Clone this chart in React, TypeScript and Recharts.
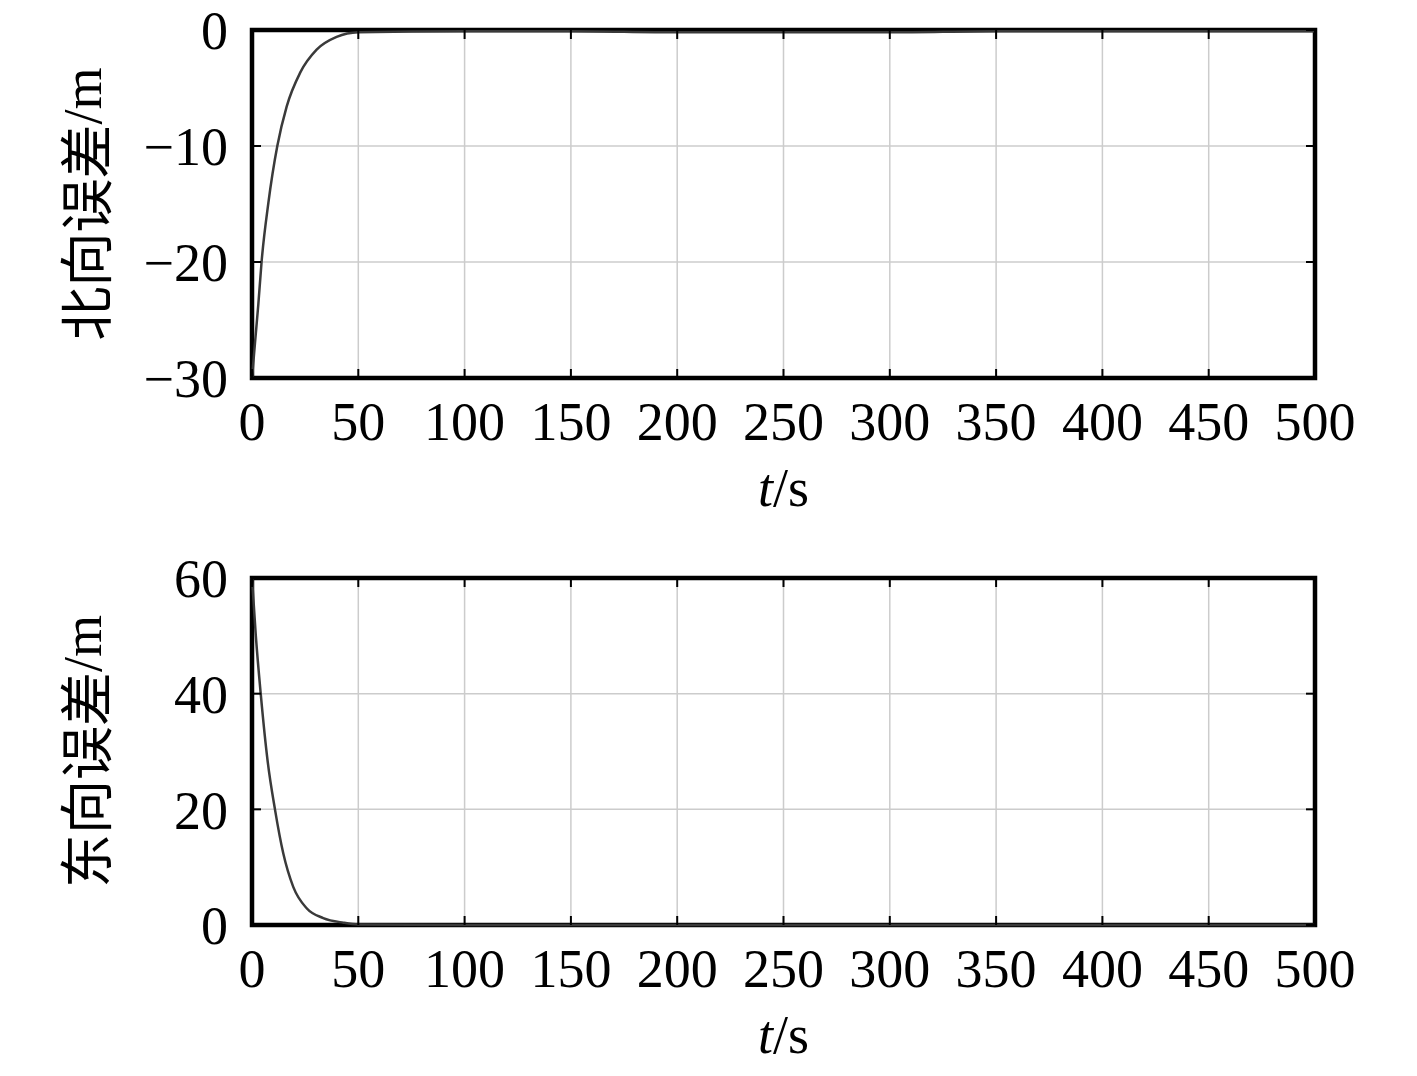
import React from "react";
import { CartesianGrid, Line, LineChart, ReferenceArea, XAxis, YAxis } from "recharts";

const timeTicks = [0, 50, 100, 150, 200, 250, 300, 350, 400, 450, 500];

const northTime = [0, 1.4, 3, 4.5, 7.7, 11.9, 16.3, 22.6, 30.4, 39.8, 50, 100, 150, 200, 250, 300, 350, 400, 450, 500];
const northError = [-30, -27, -23.6, -20, -14.9, -10, -6.6, -3.7, -1.7, -0.6, -0.2, -0.1, -0.1, -0.2, -0.2, -0.2, -0.1, -0.1, -0.1, -0.1];
const northTicks = [-30, -20, -10, 0];

const eastTime = [0, 1.8, 4.1, 7.4, 10.8, 14.7, 19.4, 25.7, 33.5, 43, 50, 100, 150, 200, 250, 300, 350, 400, 450, 500];
const eastError = [60, 50, 40, 28.2, 20, 12.4, 6.6, 2.9, 1.2, 0.4, 0.1, 0, 0, 0, 0, 0, 0, 0, 0, 0];
const eastTicks = [0, 20, 40, 60];

const SERIF = "'Liberation Serif', 'Times New Roman', serif";
const CJK = "'Noto Sans CJK SC', sans-serif";
const FONT_SIZE = 54;
const WIDTH = 1417;
const RIGHT = 102;
const TICK_LEN = 9;

const fmt = (v: number) => (v < 0 ? `\u2212${Math.abs(v)}` : `${v}`);

// tick label plus the short inward marks on bottom and top edge
function XTick(props: any) {
  const { x, y, payload, plotTop } = props;
  const bottom = y - 24;
  return (
    <g>
      <line x1={x} x2={x} y1={bottom} y2={bottom - TICK_LEN} stroke="#000" strokeWidth={2} />
      <line x1={x} x2={x} y1={plotTop} y2={plotTop + TICK_LEN} stroke="#000" strokeWidth={2} />
      <text x={x} y={y} dy="0.71em" textAnchor="middle" fontFamily={SERIF} fontSize={FONT_SIZE} fill="#000">
        {fmt(payload.value)}
      </text>
    </g>
  );
}

function YTick(props: any) {
  const { x, y, payload } = props;
  const left = x + 24;
  const right = WIDTH - RIGHT;
  return (
    <g>
      <line x1={left} x2={left + TICK_LEN} y1={y} y2={y} stroke="#000" strokeWidth={2} />
      <line x1={right} x2={right - TICK_LEN} y1={y} y2={y} stroke="#000" strokeWidth={2} />
      <text x={x} y={y} dy="0.355em" textAnchor="end" fontFamily={SERIF} fontSize={FONT_SIZE} fill="#000">
        {fmt(payload.value)}
      </text>
    </g>
  );
}

interface PanelProps {
  time: number[];
  values: number[];
  yTicks: number[];
  yLabel: string;
  height: number;
  marginTop: number;
  xAxisHeight: number;
}

function Panel({ time, values, yTicks, yLabel, height, marginTop, xAxisHeight }: PanelProps) {
  const data = time.map((t, i) => ({ t, v: values[i] }));
  const yMin = yTicks[0];
  const yMax = yTicks[yTicks.length - 1];

  return (
    <LineChart width={WIDTH} height={height} data={data} margin={{ top: marginTop, right: RIGHT, left: 0, bottom: 0 }}>
      <CartesianGrid stroke="#cccccc" strokeWidth={1.5} />
      <XAxis
        dataKey="t"
        type="number"
        domain={[0, 500]}
        ticks={timeTicks}
        height={xAxisHeight}
        tickSize={0}
        tickMargin={24}
        tickLine={false}
        axisLine={false}
        tick={<XTick plotTop={marginTop} />}
        label={{
          content: (p: any) => {
            const vb = p.viewBox;
            return (
              <text x={vb.x + vb.width / 2} y={vb.y + 128} textAnchor="middle" fontFamily={SERIF} fontSize={FONT_SIZE} fill="#000">
                <tspan fontStyle="italic">t</tspan>/s
              </text>
            );
          },
        }}
      />
      <YAxis
        type="number"
        domain={[yMin, yMax]}
        ticks={yTicks}
        width={252}
        tickSize={0}
        tickMargin={24}
        tickLine={false}
        axisLine={false}
        tick={<YTick />}
        label={{
          content: (p: any) => {
            const vb = p.viewBox;
            const cx = 83;
            const cy = vb.y + vb.height / 2;
            const [cn, unit] = yLabel.split("/");
            return (
              <text
                x={cx}
                y={cy}
                textAnchor="middle"
                dominantBaseline="central"
                transform={`rotate(-90 ${cx} ${cy})`}
                fontSize={FONT_SIZE}
                fill="#000"
              >
                <tspan fontFamily={CJK}>{cn}</tspan>
                <tspan fontFamily={SERIF}>/{unit}</tspan>
              </text>
            );
          },
        }}
      />
      <Line
        dataKey="v"
        type="monotone"
        stroke="#3a3a3a"
        strokeWidth={2.5}
        dot={false}
        isAnimationActive={false}
      />
      <ReferenceArea
        x1={0}
        x2={500}
        y1={yMin}
        y2={yMax}
        fill="none"
        fillOpacity={0}
        stroke="#000"
        strokeWidth={4.5}
        ifOverflow="visible"
      />
    </LineChart>
  );
}

export default function App() {
  return (
    <div style={{ position: "absolute", left: 0, top: 0, width: WIDTH, height: 1076, background: "#fff" }}>
      <div style={{ position: "absolute", left: 0, top: 0 }}>
        <Panel time={northTime} values={northError} yTicks={northTicks} yLabel="北向误差/m" height={540} marginTop={30} xAxisHeight={162} />
      </div>
      <div style={{ position: "absolute", left: 0, top: 540 }}>
        <Panel time={eastTime} values={eastError} yTicks={eastTicks} yLabel="东向误差/m" height={536} marginTop={38} xAxisHeight={151} />
      </div>
    </div>
  );
}
